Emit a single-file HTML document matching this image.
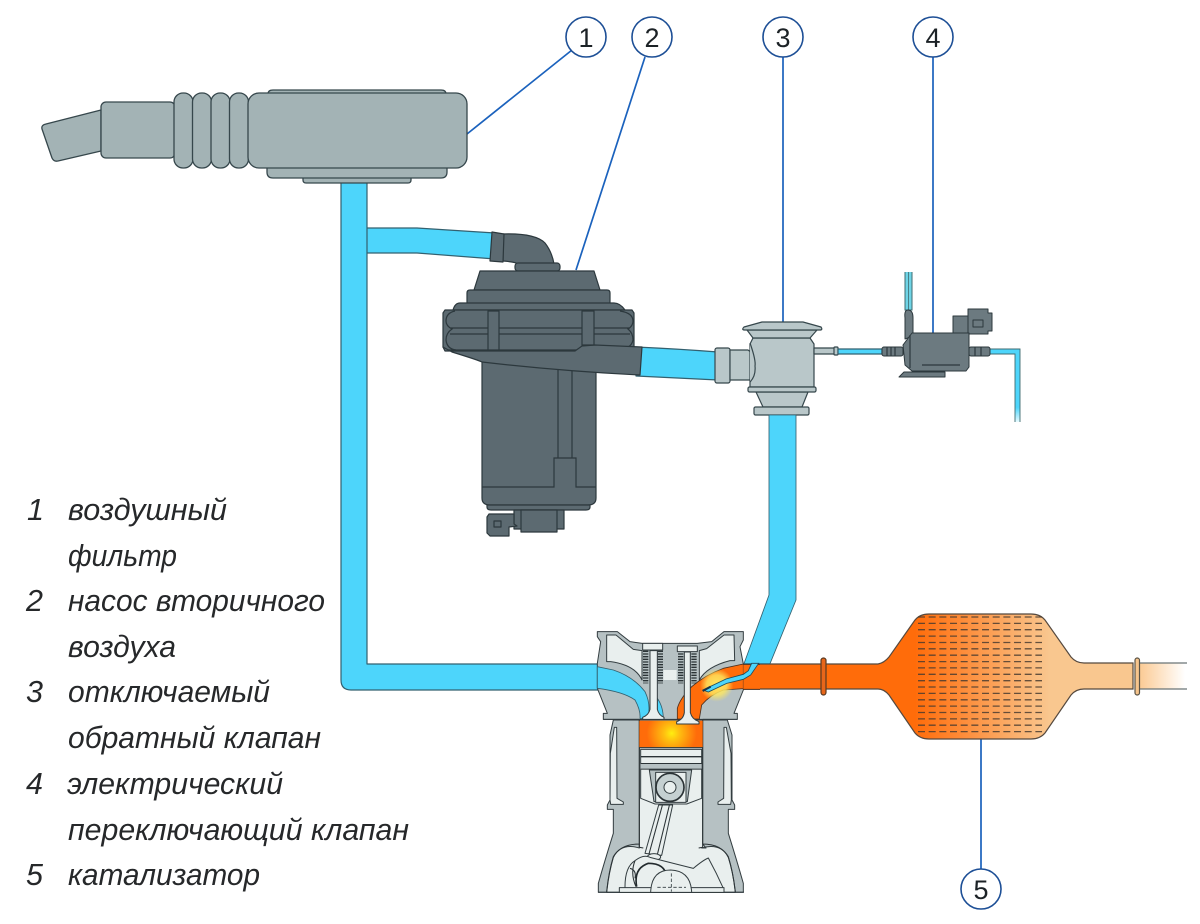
<!DOCTYPE html>
<html><head><meta charset="utf-8"><style>
html,body{margin:0;padding:0;background:#fff}
svg{display:block}
text{font-family:"Liberation Sans",sans-serif}
.l{font-style:italic;font-size:30.500px;fill:#26282a}
.n{font-size:27px;fill:#1c2226;text-anchor:middle}
.g{fill:#a3b3b5;stroke:#36474c;stroke-width:1.3;stroke-linejoin:round}
.p{fill:#5c6a71;stroke:#2c383d;stroke-width:1.2;stroke-linejoin:round}
.pl{fill:none;stroke:#2c383d;stroke-width:1.2}
.v{fill:#b9c7c9;stroke:#36474c;stroke-width:1.2;stroke-linejoin:round}
.b{fill:#4dd5fb;stroke:#33606f;stroke-width:1.2;stroke-linejoin:round}
.d{fill:#6c7a80;stroke:#2c383d;stroke-width:1;stroke-linejoin:round}
.o{fill:#fff;stroke:#1d4f96;stroke-width:1.6}
.ld{stroke:#1b62bd;stroke-width:1.7;fill:none}
.eg{fill:#b6c1c3;stroke:#333d40;stroke-width:3;stroke-linejoin:round}
.el{fill:#e9efee;stroke:#333d40;stroke-width:3;stroke-linejoin:round}
.ek{fill:none;stroke:#2b3336;stroke-width:3.2}
.eb{fill:#4dd5fb;stroke:#33606f;stroke-width:2.500;stroke-linejoin:round}
</style></head><body>
<svg width="1200" height="924" viewBox="0 0 1200 924" xmlns="http://www.w3.org/2000/svg">
<defs>
<linearGradient id="cat" gradientUnits="userSpaceOnUse" x1="915" y1="0" x2="1050" y2="0"><stop offset="0" stop-color="#ff6c0a"/><stop offset="1" stop-color="#f9c78f"/></linearGradient>
<linearGradient id="fade" gradientUnits="userSpaceOnUse" x1="1140" y1="0" x2="1185" y2="0"><stop offset="0" stop-color="#fbcb95"/><stop offset="1" stop-color="#fff"/></linearGradient>
<linearGradient id="fb" x1="0" y1="0" x2="0" y2="1"><stop offset=".8" stop-color="#4dd5fb"/><stop offset="1" stop-color="#e8fbff"/></linearGradient>
<radialGradient id="fire" gradientUnits="userSpaceOnUse" cx="275" cy="340" r="75"><stop offset="0" stop-color="#ffee10"/><stop offset=".3" stop-color="#ffc010"/><stop offset="1" stop-color="#ff6c0a"/></radialGradient>
<radialGradient id="glow" gradientUnits="userSpaceOnUse" cx="410" cy="195" r="50"><stop offset="0" stop-color="#ffe860"/><stop offset=".6" stop-color="#ffe860" stop-opacity=".8"/><stop offset="1" stop-color="#ffe860" stop-opacity="0"/></radialGradient>
</defs>

<!-- leaders -->
<path class="ld" d="M467,134 L572,50 M576,270 L645,57 M783,57 V322 M933,57 V333 M981,739 V869"/>
<g><circle class="o" cx="586" cy="37" r="20"/><text class="n" x="586" y="47">1</text>
<circle class="o" cx="652" cy="37" r="20"/><text class="n" x="652" y="47">2</text>
<circle class="o" cx="783" cy="37" r="20"/><text class="n" x="783" y="47">3</text>
<circle class="o" cx="933" cy="37" r="20"/><text class="n" x="933" y="47">4</text>
<circle class="o" cx="981" cy="889" r="20"/><text class="n" x="981" y="899">5</text></g>

<!-- pipes -->
<path class="b" d="M360,228 H417 L495,233 V259 L417,253 H360 Z"/>
<path class="b" d="M341,178 V680 Q341,690 351,690 H600 V664 H367 V178 Z"/>
<path class="b" d="M636,347 Q680,349 718,352 V380 Q680,378 636,376 Z"/>

<!-- air filter -->
<path class="g" d="M268,94 Q268,90 273,90 H441 Q446,90 446,94 V100 H268 Z"/>
<path class="g" d="M303,175 H411 V180 Q411,183 408,183 H306 Q303,183 303,180 Z"/>
<path class="g" d="M267,165 H447 V172 Q447,178 441,178 H273 Q267,178 267,172 Z"/>
<path class="g" d="M101,110 L46,124 Q41,125 42,129 L52,158 Q54,162 58,161 L101,151 Z"/>
<rect class="g" x="101" y="102" width="74" height="56" rx="5"/>
<rect class="g" x="174" y="93" width="19" height="75" rx="9"/>
<rect class="g" x="192.500" y="93" width="19" height="75" rx="9"/>
<rect class="g" x="211" y="93" width="19" height="75" rx="9"/>
<rect class="g" x="229.500" y="93" width="19" height="75" rx="9"/>
<rect class="g" x="248" y="93" width="219" height="75" rx="11"/>

<!-- pump -->
<path class="p" d="M503,234 Q535,233 545,243 Q552,252 554,264 H518 Q516,262 503,261 Z"/>
<path class="p" d="M492,232 L504,234 L503,262 L490,261 Z"/>
<rect class="p" x="515" y="263" width="45" height="8" rx="3"/>
<path class="p" d="M482,360 H596 V498 Q596,505 588,505 H490 Q482,505 482,498 Z"/>
<path class="p" d="M487,505 H590 V507 Q590,510 586,510 H491 Q487,510 487,507 Z"/>
<path class="pl" d="M482,487 H554 V458 H576 V487 H596 M558,370 V458 M572,370 V458"/>
<rect class="p" x="514" y="510" width="50" height="19"/>
<rect class="p" x="521" y="510" width="36" height="22"/>
<path class="p" d="M489,514 H514 V524 L517,526 L509,527 V536 H490 L487,533 V517 Z"/>
<rect class="p" x="494" y="521" width="7" height="6" fill="none"/>
<path class="p" d="M480,271 H594 L600,290 H474 Z"/>
<path class="p" d="M470,290 H607 Q610,290 610,293 V304 H467 V293 Q467,290 470,290 Z"/>
<path class="p" d="M460,303 H614 Q620,303 625,310 H453 Q455,303 460,303 Z"/>
<path class="p" d="M445,310 H632 L634,313 V347 L632,350 H445 L443,347 V313 Z"/>
<path class="pl" d="M455,311 Q446,313 446,321 Q446,326 452,329 Q446,333 446,340 Q447,349 456,350 M620,311 Q633,313 633,321 Q633,326 628,329 Q633,333 633,340 Q632,345 628,347 M450,328 H630 M450,334 H630"/>
<path class="p" d="M443,347 L452,352 Q478,360 482,362 Q560,371 640,375 L642,347 L595,345 L582,346 L575,351 H445 Z"/>
<rect class="p" x="488" y="311" width="11" height="39"/>
<rect class="p" x="582" y="311" width="12" height="34"/>

<!-- check valve -->
<rect class="v" x="715" y="348" width="15" height="35" rx="2"/>
<path class="v" d="M730,350 H748 Q757,356 755,365 Q755,376 750,380 H730 Z"/>
<path class="v" d="M756,392 H808 L802,407 H763 Z"/>
<rect class="v" x="754" y="407" width="55" height="8" rx="1.500"/>
<path class="v" d="M753,338 H810 L814,344 V387 H750 V344 Z"/>
<path class="v" d="M750,343 Q756,360 755,366 Q756,376 750,382" fill="none"/>
<rect class="v" x="748" y="387" width="68" height="5" rx="1.500"/>
<path class="v" d="M747,330 H817 L810,338 H753 Z"/>
<path class="v" d="M762,322 H803 L821,327 Q823,330 820,330 H745 Q741,330 744,327 Z"/>
<rect class="v" x="814" y="348" width="21" height="6"/>
<rect class="v" x="834" y="347" width="4" height="8" rx="1"/>

<!-- small tubes -->
<path class="b" d="M838,349 H882 V354 H838 Z" stroke-width=".8" fill="#79e0f8"/>
<path d="M905,272 V310 H912 V272" fill="#6fd4e6" stroke="#3f6b70" stroke-width="1"/>
<path d="M908.500,272 V310" stroke="#3f6b70" stroke-width=".8" fill="none"/>
<path d="M990,349 H1020 V422 H1015 V354 H990 Z" fill="url(#fb)" stroke="none"/>
<path d="M990,349 H1020 V422 M1015,422 V354 H990" fill="none" stroke="#3f6b70" stroke-width=".9"/>

<!-- switching valve -->
<path class="d" d="M899,377 L904,372 H945 V377 Z" fill="#4e5a60"/>
<rect class="d" x="882" y="347" width="21" height="9" rx="2" fill="#4e5a60"/>
<path class="pl" d="M887,347 V356 M891,347 V356 M895,347 V356"/>
<rect class="d" x="969" y="347" width="21" height="9" rx="2" fill="#4e5a60"/>
<path class="pl" d="M975,347 V356 M981,347 V356"/>
<path class="d" d="M905,318 Q904,310 908,310 Q913,310 913,318 V336 L905,339 Z" fill="#4e5a60"/>
<path class="d" d="M953,316 H969 V336 H953 Z"/>
<path class="d" d="M968,312 V309 H988 V313 H992 V331 H988 V334 H968 Z"/>
<rect class="d" x="973" y="320" width="10" height="7" fill="none"/>
<path class="d" d="M903,345 L912,333 H969 V367 L966,371 H912 L905,365 Z"/>
<path class="pl" d="M910,335 V368 M922,365 H960"/>

<!-- exhaust & catalyst -->
<path d="M743,664 H878 Q884,663 889,657 L915,620 Q920,614 929,614 H1031 Q1040,614 1045,620 L1071,657 Q1076,663 1084,663 H1133 V689 H1084 Q1076,689 1071,695 L1045,733 Q1040,739 1031,739 H929 Q920,739 915,733 L889,695 Q884,689 878,689 H743 Z" fill="url(#cat)" stroke="#55493f" stroke-width="1.200"/>
<path d="M1139,663.500 H1187 V688.500 H1139 Z" fill="url(#fade)"/>
<path d="M1139,663 H1187 M1139,689 H1187" stroke="#6a7476" stroke-width="1.200"/>
<g fill="none" stroke="#4a3c30" stroke-width="1.300" stroke-dasharray="7 3.670" opacity=".85">
<path d="M918,617H1042M918,623.400H1042M918,629.700H1042M918,636.100H1042M918,642.500H1042M918,648.800H1042M918,655.200H1042M918,661.600H1042M918,667.900H1042M918,674.300H1042M918,680.700H1042M918,687H1042M918,693.400H1042M918,699.800H1042M918,706.100H1042M918,712.500H1042M918,718.900H1042M918,725.200H1042M918,731.600H1042"/>
</g>
<rect x="821" y="658" width="5" height="37" rx="2.500" fill="#e8661a" stroke="#5a3a22" stroke-width="1.200"/>
<rect x="1135" y="658" width="4.500" height="37" rx="2.200" fill="#f6c48c" stroke="#5a5346" stroke-width="1.200"/>

<!-- engine: drawn in 3x local coordinates -->
<g transform="translate(580 620) scale(.33333)">
<!-- block walls -->
<path class="eg" d="M100,300 H442 L456,345 V540 L464,555 V568 H445 V640 Q470,720 490,790 V817 H55 V790 Q75,720 100,640 V568 H82 V555 L90,540 V345 Z"/>
<!-- jackets -->
<path class="el" d="M103,322 L110,322 L111,535 L130,546 V553 H92 L90,540 L91,400 Z"/>
<path class="el" d="M439,322 L432,322 L431,535 L414,546 V553 H452 L454,540 L453,400 Z"/>
<!-- bore + crankcase -->
<path class="el" d="M178,300 H368 V672 L378,684 H365 Q420,668 445,710 Q460,760 466,817 H80 Q85,760 100,710 Q125,668 178,684 Z" stroke="none"/>
<path class="ek" d="M178,300 V682 L190,684 M368,300 V682 L356,684 M178,672 Q120,672 100,712 Q86,760 80,817 M368,672 Q425,672 445,712 Q460,760 466,817"/>
<rect x="55" y="815" width="437" height="3" fill="#333d40"/>
<!-- combustion -->
<rect x="178" y="302" width="190" height="80" fill="url(#fire)"/>
<path class="ek" d="M178,383 H368"/>
<!-- piston -->
<path class="el" d="M182,388 H365 V535 L320,552 H225 L182,535 Z"/>
<path d="M182,410 H365 M182,431 H365 M182,447 H365" stroke="#2b3336" stroke-width="4" fill="none"/>
<rect x="182" y="432" width="183" height="14" fill="#b6c1c3"/>
<path class="eg" d="M208,450 H335 L322,545 H222 Z" fill="#c3cdce"/>
<rect class="el" x="227" y="457" width="91" height="90" fill="#d8e0e0"/>
<circle cx="270" cy="502" r="42" fill="#c5d0d1" stroke="#2b3336" stroke-width="5"/>
<circle class="el" cx="270" cy="502" r="18"/>
<!-- rod -->
<path class="el" d="M236,555 H278 L245,706 L195,700 Z"/>
<path class="ek" d="M247,556 L207,702 M268,556 L232,704"/>
<ellipse class="el" cx="222" cy="711" rx="20" ry="10"/>
<!-- crank -->
<path class="el" d="M135,800 Q135,740 165,722 Q190,702 210,712 Q260,725 340,745 Q370,720 385,714 Q410,760 430,805 H135 Z" fill="#eef3f2"/>
<path class="ek" d="M165,722 Q150,760 168,800 M150,745 Q170,750 165,775" stroke-width="2.500"/>
<path d="M170,800 Q160,745 205,730 Q255,730 260,770" fill="none" stroke="#222a2d" stroke-width="5"/>
<path class="el" d="M118,803 H432 V817 H118 Z" fill="#dfe6e6"/>
<path class="el" d="M212,817 Q214,750 272,750 Q332,752 335,817 Z"/>
<path d="M274,760 V815 M232,802 H318" stroke="#333d40" stroke-width="2.500" stroke-dasharray="10 6" fill="none"/>

<!-- cylinder head -->
<path class="eg" d="M52,35 H112 L150,65 L187,70 H352 L395,65 L432,35 H490 V60 L480,80 L490,132 V210 L462,280 H472 V298 H70 V280 H82 L52,205 V130 L62,65 L52,50 Z"/>
<path class="el" d="M80,45 H108 L160,88 L186,92 V180 Q165,135 92,125 L80,125 Z" stroke-width="1.500"/>
<path class="el" d="M462,45 H432 L380,86 L358,92 V180 Q380,140 450,122 L464,122 Z" stroke-width="1.500"/>
<rect x="250" y="80" width="40" height="66" fill="#b6c1c3"/>
<rect x="250" y="150" width="40" height="30" fill="#e9efee"/>

<!-- ports -->
<path class="eb" d="M52,140 L100,150 Q160,170 195,215 Q212,250 205,285 L190,297 L180,295 Q182,270 165,240 Q130,215 52,205 Z"/>
<path class="eb" d="M232,235 Q250,260 250,298 L232,288 Z"/>
<path d="M292,297 V265 Q300,235 335,200 Q375,165 430,145 L490,132 V206 L430,210 Q390,225 365,255 L358,297 Z" fill="#ff6c0a" stroke="#4a3020" stroke-width="2.500"/>
<circle cx="410" cy="195" r="50" fill="url(#glow)"/>
<rect x="490" y="133" width="50" height="75" fill="#ff6c0a"/>
<path d="M490,133 H540 M490,208 H540" stroke="#4a3020" stroke-width="3"/>
<!-- air feed pipe -->
<path class="eb" d="M568,-620 H648 L648,-60 L572,131 H490 Z" transform="translate(0 0)" style="display:none"/>
<path class="eb" d="M567,-615 H648 V-60 L570,131 H492 L567,-75 Z"/>
<path d="M515,130 H536 L512,165 L490,178 L440,190 L385,216 L369,210 L438,177 L490,163 L505,152 Z" fill="#4dd5fb" stroke="#1f4a5a" stroke-width="2.500"/>
<path d="M368,213 L392,200" stroke="#17324a" stroke-width="6" fill="none"/>

<!-- valves -->
<path d="M197,92 V190 M241,92 V190 M302,100 V190 M342,100 V190" stroke="#2b3336" stroke-width="16" stroke-dasharray="4 4" fill="none"/>
<path class="el" d="M210,92 H232 V268 Q236,285 252,292 V298 H188 V292 Q206,285 210,268 Z"/>
<path class="el" d="M313,96 H331 V278 Q336,298 357,305 V312 H290 V305 Q310,298 313,278 Z"/>
<rect class="el" x="188" y="70" width="60" height="20"/>
<rect class="el" x="292" y="78" width="60" height="17"/>
<path d="M70,298 H178 M368,298 H472" stroke="#333d40" stroke-width="3"/>
</g>

<!-- legend -->
<text class="l" x="27" y="520">1</text>
<text class="l" x="68" y="520" textLength="159" lengthAdjust="spacingAndGlyphs">воздушный</text>
<text class="l" x="68" y="566" textLength="109" lengthAdjust="spacingAndGlyphs">фильтр</text>
<text class="l" x="26" y="611">2</text>
<text class="l" x="68" y="611" textLength="257" lengthAdjust="spacingAndGlyphs">насос вторичного</text>
<text class="l" x="68" y="657" textLength="108" lengthAdjust="spacingAndGlyphs">воздуха</text>
<text class="l" x="26" y="702">3</text>
<text class="l" x="68" y="702" textLength="202" lengthAdjust="spacingAndGlyphs">отключаемый</text>
<text class="l" x="68" y="748" textLength="253" lengthAdjust="spacingAndGlyphs">обратный клапан</text>
<text class="l" x="26" y="794">4</text>
<text class="l" x="67" y="794" textLength="216" lengthAdjust="spacingAndGlyphs">электрический</text>
<text class="l" x="68" y="840" textLength="341" lengthAdjust="spacingAndGlyphs">переключающий клапан</text>
<text class="l" x="26" y="885">5</text>
<text class="l" x="68" y="885" textLength="192" lengthAdjust="spacingAndGlyphs">катализатор</text>
</svg>
</body></html>
